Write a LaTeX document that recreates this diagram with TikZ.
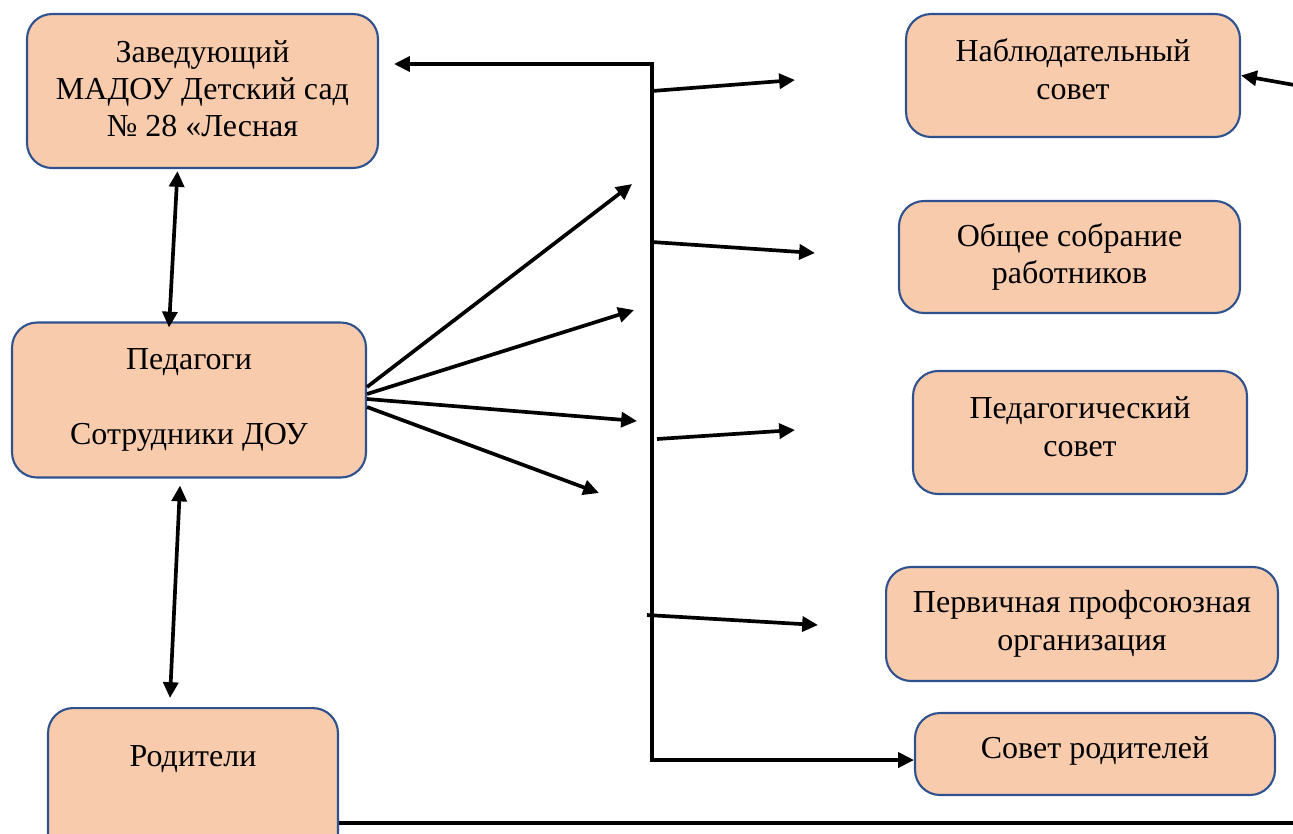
\documentclass[tikz,border=0pt]{standalone}
\usepackage{fontspec}
\setmainfont{Liberation Serif}
\usetikzlibrary{arrows.meta,calc}
\definecolor{boxfill}{HTML}{F8CBAD}
\definecolor{boxline}{HTML}{2F528F}
\newcommand{\liftlines}[2]{\raisebox{#1}[\height][\depth]{\begin{tabular}{@{}c@{}}#2\end{tabular}}}

\begin{document}
\begin{tikzpicture}[x=0.02cm, y=-0.02cm,
        box/.style={draw=boxline, fill=boxfill, line width=1.2pt, rounded corners=0.5cm,
            align=center, inner sep=0pt, font=\fontsize{18.2}{21.3}\selectfont},
        arr/.style={line width=2.1pt, -{Triangle[length=9pt,width=8.5pt]}},
        twoarr/.style={line width=2.1pt, {Triangle[length=9pt,width=8.5pt]}-{Triangle[length=9pt,width=8.5pt]}}]
        \clip (0,0) rectangle (1293,833);

        \node[box, minimum width=7.02cm, minimum height=3.08cm] (head) at (202.5,91) {\liftlines{-0.02cm}{Заведующий\\МАДОУ Детский сад\\№ 28 «Лесная}};
        \node[box, minimum width=7.08cm, minimum height=3.1cm] (ped) at (189,400) {Педагоги\\\mbox{}\\Сотрудники ДОУ};
        \node[box, minimum width=5.8cm, anchor=north, text height=1.16cm, text depth=2cm] (par) at (193,707) {Родители};

        \node[box, minimum width=6.68cm, minimum height=2.46cm] (obs) at (1073,75.5) {\liftlines{0.05cm}{Наблюдательный\\совет}};
        \node[box, minimum width=6.82cm, minimum height=2.24cm] (gen) at (1069.5,257) {Общее собрание\\работников};
        \node[box, minimum width=6.68cm, minimum height=2.46cm] (pcs) at (1080,432.5) {\liftlines{0.05cm}{Педагогический\\совет}};
        \node[box, minimum width=7.84cm, minimum height=2.28cm] (uni) at (1082,624) {Первичная профсоюзная\\организация};
        \node[box, minimum width=7.2cm, minimum height=1.64cm] (prc) at (1095,754) {\liftlines{0.06cm}{Совет родителей}};

        \coordinate (top) at (652,64);
        \coordinate (bot) at (652,760);
        \draw[twoarr] ($(head.east)+(15,-27)$) -- (top) -- (bot) -- (bot -| prc.west);

        \coordinate (s1) at (652,91);  \coordinate (e1) at (795,80);
        \coordinate (s2) at (652,242); \coordinate (e2) at (815,253);
        \coordinate (s3) at (657,439); \coordinate (e3) at (795,430);
        \coordinate (s4) at (647,615); \coordinate (e4) at (818,625);
        \draw[arr] (s1) -- (e1);
        \draw[arr] (s2) -- (e2);
        \draw[arr] (s3) -- (e3);
        \draw[arr] (s4) -- (e4);

        \coordinate (f1) at (632,184);
        \coordinate (f2) at (634,310);
        \coordinate (f3) at (637,421);
        \coordinate (f4) at (599,493);
        \draw[arr] ($(ped.east)+(0,-13)$) -- (f1);
        \draw[arr] ($(ped.east)+(0,-6)$) -- (f2);
        \draw[arr] ($(ped.east)+(0,-1)$) -- (f3);
        \draw[arr] ($(ped.east)+(0,7)$) -- (f4);

        \draw[twoarr] ($(head.south)+(-25,2)$) -- ($(ped.north)+(-20,6)$);
        \draw[twoarr] ($(ped.south)+(-9,7)$) -- ($(par.north)+(-23,-9)$);

        \coordinate (rt) at (1300,86);
        \draw[arr] (rt) -- (obs.east);
        \coordinate (rb) at (1300,823);
        \draw[line width=2.1pt] (par.east |- rb) -- (rb);
    \end{tikzpicture}
\end{document}
